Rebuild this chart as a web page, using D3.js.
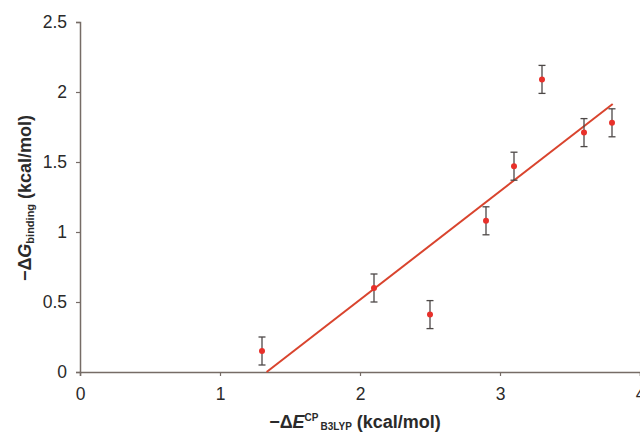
<!DOCTYPE html>
<html>
<head>
<meta charset="utf-8">
<script src="https://cdn.jsdelivr.net/npm/d3@7"></script>
<style>
  html, body { margin: 0; padding: 0; background: #fff; }
  svg { display: block; }
  text { font-family: "Liberation Sans", Arial, Helvetica, sans-serif; fill: #2a2a2a; }
</style>
</head>
<body>
<svg id="chart" width="640" height="433"></svg>
<script>
// ---- data ----
const xValues = [1.3, 2.1, 2.5, 2.9, 3.1, 3.3, 3.6, 3.8];
const yValues = [0.15, 0.60, 0.41, 1.08, 1.47, 2.09, 1.71, 1.78];
const yErrors = [0.10, 0.10, 0.10, 0.10, 0.10, 0.10, 0.10, 0.10];
const trendX = [1.333, 3.805];
const trendY = [0.0, 1.914];
const xTicks = [0, 1, 2, 3, 4];
const yTicks = [0, 0.5, 1, 1.5, 2, 2.5];

// ---- layout ----
const svg = d3.select("#chart");
const margin = { left: 80, right: 0, top: 22, bottom: 61 };
const W = 640, H = 433;
const x = d3.scaleLinear().domain([0, 4]).range([margin.left, W - margin.right]);
const y = d3.scaleLinear().domain([0, 2.5]).range([H - margin.bottom, margin.top]);

const axisColor = "#766c66";
const fmt = d => (d === 0 ? "0" : d3.format("~g")(d));

const gx = svg.append("g")
  .attr("transform", `translate(0,${y(0)})`)
  .call(d3.axisBottom(x).tickValues(xTicks).tickFormat(fmt).tickSize(4).tickPadding(12));
const gy = svg.append("g")
  .attr("transform", `translate(${x(0)},0)`)
  .call(d3.axisLeft(y).tickValues(yTicks).tickFormat(fmt).tickSize(4).tickPadding(9));

[gx, gy].forEach(g => {
  g.select(".domain").attr("stroke", axisColor).attr("stroke-width", 1.5);
  g.selectAll(".tick line").attr("stroke", axisColor).attr("stroke-width", 1.2);
  g.selectAll(".tick text")
    .attr("fill", "#2a2a2a")
    .style("font-size", "17.5px")
    .style("font-family", "'Liberation Sans', Arial, sans-serif");
});

// ---- trend line ----
svg.append("line")
  .attr("x1", x(trendX[0])).attr("y1", y(trendY[0]))
  .attr("x2", x(trendX[1])).attr("y2", y(trendY[1]))
  .attr("stroke", "#d9442e").attr("stroke-width", 2);

// ---- error bars ----
const data = xValues.map((v, i) => ({ x: v, y: yValues[i], e: yErrors[i] }));
const eb = svg.append("g").attr("stroke", "#4d4847").attr("stroke-width", 1.3);
data.forEach(d => {
  eb.append("line").attr("x1", x(d.x)).attr("x2", x(d.x))
    .attr("y1", y(d.y - d.e)).attr("y2", y(d.y + d.e));
  eb.append("line").attr("x1", x(d.x) - 3.5).attr("x2", x(d.x) + 3.5)
    .attr("y1", y(d.y - d.e)).attr("y2", y(d.y - d.e));
  eb.append("line").attr("x1", x(d.x) - 3.5).attr("x2", x(d.x) + 3.5)
    .attr("y1", y(d.y + d.e)).attr("y2", y(d.y + d.e));
});

// ---- points ----
svg.append("g").selectAll("circle").data(data).join("circle")
  .attr("cx", d => x(d.x)).attr("cy", d => y(d.y)).attr("r", 3)
  .attr("fill", "#e8302a");

// ---- axis titles ----
const xt = svg.append("text")
  .attr("x", 355).attr("y", 428)
  .attr("text-anchor", "middle")
  .style("font-size", "18px").style("font-weight", "bold");
xt.append("tspan").text("\u2212\u0394");
xt.append("tspan").style("font-style", "italic").text("E");
xt.append("tspan").attr("dy", -7).style("font-size", "10px").text("CP");
xt.append("tspan").attr("dy", 9).style("font-size", "10px").text("\u2009B3LYP");
xt.append("tspan").attr("dy", -2).text(" (kcal/mol)");

const yt = svg.append("text")
  .attr("transform", `translate(31,198) rotate(-90)`)
  .attr("text-anchor", "middle")
  .style("font-size", "18px").style("font-weight", "bold");
yt.append("tspan").text("\u2212\u0394");
yt.append("tspan").style("font-style", "italic").text("G");
yt.append("tspan").attr("dy", 3).style("font-size", "11px").text("binding");
yt.append("tspan").attr("dy", -3).text(" (kcal/mol)");
</script>
</body>
</html>
